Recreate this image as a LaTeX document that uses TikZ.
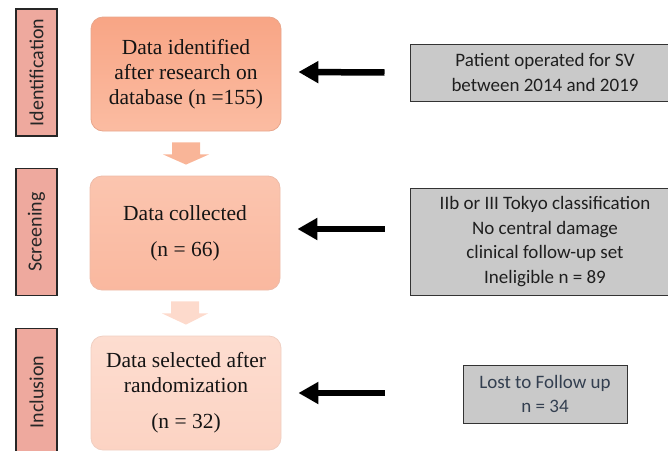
\documentclass[tikz,border=0pt]{standalone}
\usepackage{fontspec}
\setmainfont{Liberation Serif}
\newfontfamily\calib{Carlito}
\usetikzlibrary{arrows.meta}
\definecolor{sidefill}{HTML}{EEA99E}
\definecolor{grayfill}{HTML}{C9C9C9}
\definecolor{slate}{HTML}{333F50}
\definecolor{aone}{HTML}{F9B598}
\definecolor{atwo}{HTML}{FDDACC}
\definecolor{bdone}{HTML}{E8A68C}
\definecolor{topone}{HTML}{F8A585}
\definecolor{botone}{HTML}{FBBCA2}
\definecolor{bdtwo}{HTML}{EDBBA8}
\definecolor{toptwo}{HTML}{FBC5AF}
\definecolor{bottwo}{HTML}{FAB89F}
\definecolor{bdthree}{HTML}{F0CFC2}
\definecolor{topthree}{HTML}{FDDDD0}
\definecolor{botthree}{HTML}{FCD3C3}
\tikzset{
  side/.style={draw=black!85, line width=1.1pt, fill=sidefill, rotate=90,
    minimum width=127pt, minimum height=41pt, inner sep=0pt,
    font=\calib\fontsize{20}{24}\selectfont, text=black!85},
  mainbox/.style={rounded corners=12pt, line width=0.8pt, minimum width=190pt,
    minimum height=114pt, align=center, inner sep=0pt,
    font=\fontsize{21.5}{25}\selectfont, text=black!92},
  grbox/.style={draw=black!80, line width=1pt, fill=grayfill, align=center,
    inner sep=0pt, font=\calib\fontsize{19}{24.5}\selectfont, text=black!88},
  blk/.style={line width=6.5pt, -{Triangle[length=20pt,width=21pt]}},
}
\begin{document}
\begin{tikzpicture}[x=1pt,y=-1pt]
\useasboundingbox (0,0) rectangle (668,450);
% side labels
\node[side] (sid) at (36.5,72.5) {Identification};
\node[side] (ssc) at (36.5,232) {Screening};
\node[side] (sin) at (36.5,392) {Inclusion};
% main boxes
\node[mainbox, draw=bdone, top color=topone, bottom color=botone] (b1) at (186,74)
  {Data identified\\after research on\\database (n =155)};
\node[mainbox, draw=bdtwo, top color=toptwo, bottom color=bottwo] (b2) at (185,233)
  {Data collected\\[11pt](n = 66)};
\node[mainbox, draw=bdthree, top color=topthree, bottom color=botthree] (b3) at (186,393)
  {Data selected after\\randomization\\[11pt](n = 32)};
% block arrows
\fill[aone] ([xshift=-14pt,yshift=-11pt]b1.south) -- ++(28,0) -- ++(0,12) -- ++(9,0)
  -- ([xshift=1pt,yshift=11pt]b2.north) -- ([xshift=-23pt,yshift=-23pt]b1.south) -- ++(9,0) -- cycle;
\fill[atwo] ([xshift=-14pt,yshift=-11pt]b2.south) -- ++(28,0) -- ++(0,12) -- ++(9,0)
  -- ([yshift=11pt]b3.north) -- ([xshift=-23pt,yshift=-23pt]b2.south) -- ++(9,0) -- cycle;
% gray boxes
\node[grbox, minimum width=270pt, minimum height=57pt] (gA) at (545,72.5)
  {Patient operated for SV\\between 2014 and 2019};
\node[grbox, minimum width=270pt, minimum height=107pt] (gB) at (545,241.5)
  {IIb or III Tokyo classification\\No central damage\\clinical follow-up set\\Ineligible n = 89};
\node[grbox, minimum width=164pt, minimum height=58pt, text=slate] (gC) at (545,394)
  {Lost to Follow up\\n = 34};
% black arrows
\draw[blk] ([xshift=-25pt]gA.west) -- ([xshift=17pt,yshift=2pt]b1.east);
\draw[blk] ([xshift=-25pt,yshift=12.5pt]gB.west) -- ([xshift=17pt,yshift=4pt]b2.east);
\draw[blk] ([xshift=-78pt,yshift=1pt]gC.west) -- ([xshift=17pt]b3.east);
\end{tikzpicture}
\end{document}
